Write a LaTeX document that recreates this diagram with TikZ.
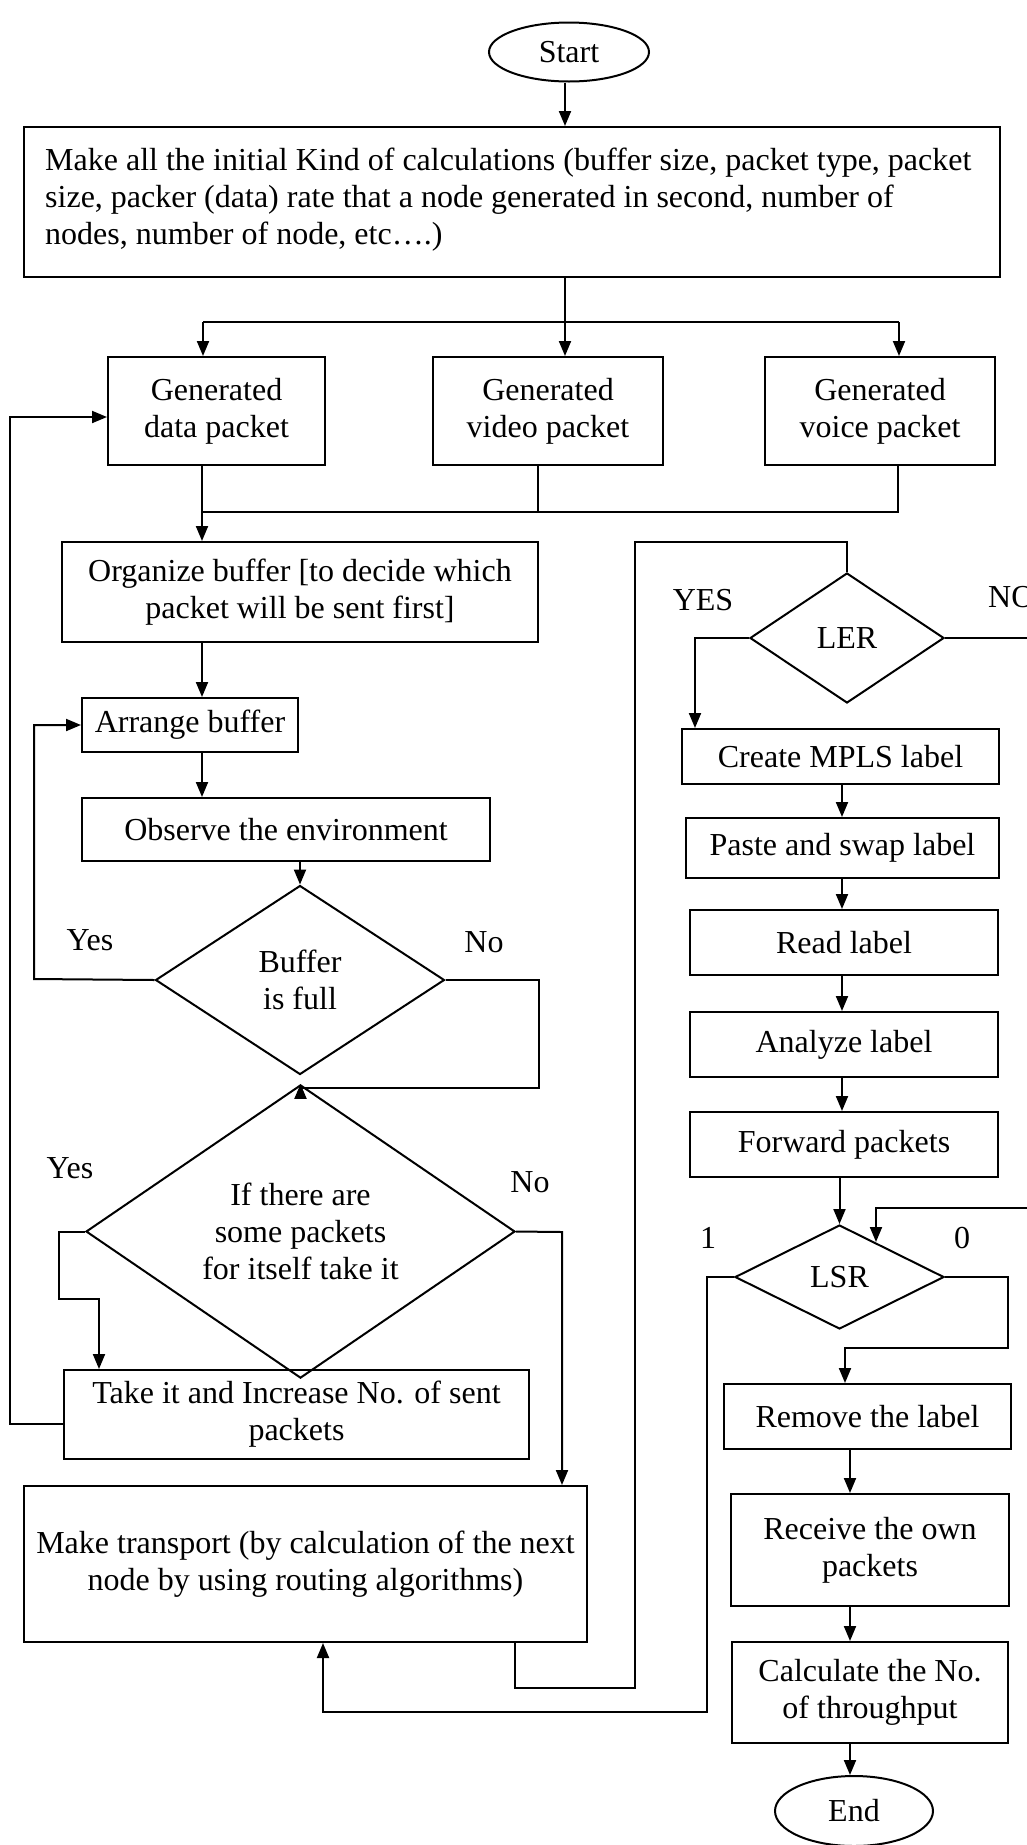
\documentclass[tikz,border=0pt]{standalone}
\usepackage{fontspec}
\setmainfont{Liberation Serif}
\usetikzlibrary{arrows.meta,shapes.geometric}
\begin{document}
\begin{tikzpicture}[x=1pt,y=-1pt,
  every node/.style={font=\fontsize{32}{37}\selectfont},
  box/.style={draw,line width=2pt,rectangle,inner sep=0pt,align=center},
  dia/.style={draw,line width=2pt,diamond,inner sep=0pt,align=center},
  term/.style={draw,line width=2pt,ellipse,inner sep=0pt},
  line/.style={line width=2pt},
  thin/.style={line width=1.3pt},
  arr/.style={line width=2pt,-{Triangle[length=15pt,width=12pt]}},
  lbl/.style={inner sep=0pt}
]
\useasboundingbox (0,0) rectangle (1027,1845);

% nodes
\node[term,minimum width=160pt,minimum height=59pt] (start) at (569,52) {Start};
\node[box,minimum width=976pt,minimum height=150pt] (init) at (512,202) {};
\node[lbl,anchor=north west,align=left] (inittext) at (45,148)
  {Make all the initial Kind of calculations (buffer size, packet type, packet\\
   size, packer (data) rate that a node generated in second, number of\\
   nodes, number of node, etc….)};
\node[box,minimum width=217pt,minimum height=108pt] (data) at (216.5,411) {Generated\\data packet};
\node[box,minimum width=230pt,minimum height=108pt] (video) at (548,411) {Generated\\video packet};
\node[box,minimum width=230pt,minimum height=108pt] (voice) at (880,411) {Generated\\voice packet};
\node[box,minimum width=476pt,minimum height=100pt] (org) at (300,592) {Organize buffer [to decide which\\packet will be sent first]};
\node[box,minimum width=216pt,minimum height=54pt] (arrange) at (190,725) {Arrange buffer};
\node[box,minimum width=408pt,minimum height=63pt] (observe) at (286,829.5) {Observe the environment};
\node[dia,minimum width=289pt,minimum height=189pt] (buf) at (300,980) {Buffer\\is full};
\node[dia,minimum width=429pt,minimum height=237pt] (q) at (300.5,1231.5) {If there are\\some packets\\for itself take it};
\node[box,minimum width=465pt,minimum height=89pt] (take) at (296.5,1414.5) {Take it and Increase No. of sent\\packets};
\node[box,minimum width=563pt,minimum height=156pt] (transport) at (305.5,1564) {Make transport (by calculation of the next\\node by using routing algorithms)};

\node[dia,minimum width=194pt,minimum height=130pt] (ler) at (847,638) {LER};
\node[box,minimum width=317pt,minimum height=55pt] (create) at (840.5,756.5) {Create MPLS label};
\node[box,minimum width=313pt,minimum height=60pt] (paste) at (842.5,848) {Paste and swap label};
\node[box,minimum width=308pt,minimum height=65pt] (read) at (844,942.5) {Read label};
\node[box,minimum width=308pt,minimum height=65pt] (analyze) at (844,1044.5) {Analyze label};
\node[box,minimum width=308pt,minimum height=65pt] (forward) at (844,1144.5) {Forward packets};
\node[dia,minimum width=209pt,minimum height=104pt] (lsr) at (839.5,1277) {LSR};
\node[box,minimum width=287pt,minimum height=65pt] (remove) at (867.5,1416.5) {Remove the label};
\node[box,minimum width=278pt,minimum height=112pt] (receive) at (870,1550) {Receive the own\\packets};
\node[box,minimum width=276pt,minimum height=101pt] (calc) at (870,1692.5) {Calculate the No.\\of throughput};
\node[term,minimum width=158pt,minimum height=70pt] (end) at (854,1811) {End};

% labels
\node[lbl] (yes1) at (90,940) {Yes};
\node[lbl] (no1) at (484,942) {No};
\node[lbl] (yes2) at (70,1168) {Yes};
\node[lbl] (no2) at (530,1182) {No};
\node[lbl] (yes3) at (703,600) {YES};
\node[lbl,anchor=west] (no3) at (988,597) {NO};
\node[lbl] (one) at (708,1238) {1};
\node[lbl] (zero) at (962,1238) {0};

% connectors
\coordinate (sp) at (565,322);
\draw[arr] (sp |- start.south) -- (sp |- init.north);
\draw[line] (sp |- init.south) -- (sp);
\coordinate (g1) at (203,322);
\coordinate (g3) at (899,322);
\draw[line] (g1) -- (g3);
\draw[arr] (g1) -- (g1 |- data.north);
\draw[arr] (sp) -- (sp |- video.north);
\draw[arr] (g3) -- (g3 |- voice.north);

\coordinate (m1) at (202,512);
\coordinate (m2) at (538,512);
\coordinate (m3) at (898,512);
\draw[line] (m1 |- data.south) -- (m1) -- (m3) -- (m3 |- voice.south);
\draw[thin] (m2 |- video.south) -- (m2);
\draw[arr] (m1) -- (m1 |- org.north);
\draw[arr] (org.south -| m1) -- (m1 |- arrange.north);
\draw[arr] (arrange.south -| m1) -- (m1 |- observe.north);
\draw[arr] (observe.south -| buf.north) -- (buf.north);

\coordinate (by) at (34,979);
\draw[arr] (buf.west) -- (by) |- (arrange.west);
\coordinate (bn) at (539,1088);
\draw[arr] (buf.east) -| (bn) -| (q.north);

\coordinate (qy1) at (59,1299);
\coordinate (qy2) at (99,1299);
\draw[arr] (q.west) -| (qy1) -- (qy2) -- (qy2 |- take.north);
\coordinate (lp) at (10,417);
\draw[arr] ([yshift=-9.5pt]take.west) -| (lp) -- (lp -| data.west);
\coordinate (qn) at (562,1232);
\draw[arr] (q.east) -- (qn) -- (qn |- transport.north);

\coordinate (l1) at (515,1688);
\coordinate (l2) at (635,1688);
\coordinate (l3) at (635,542);
\draw[thin] (l1 |- transport.south) -- (l1) -- (l2) -- (l3) -| (ler.north);

\coordinate (cy) at (695,638);
\draw[arr] (ler.west) -- (cy) -- (cy |- create.north);
\coordinate (ne) at (1030,638);
\draw[line] (ler.east) -- (ne);

\coordinate (rc) at (842,0);
\draw[arr] (create.south -| rc) -- (paste.north -| rc);
\draw[arr] (paste.south -| rc) -- (read.north -| rc);
\draw[arr] (read.south -| rc) -- (analyze.north -| rc);
\draw[arr] (analyze.south -| rc) -- (forward.north -| rc);
\draw[arr] (forward.south -| lsr.north) -- (lsr.north);

\coordinate (f0) at (1030,1208);
\coordinate (f1) at (876,1208);
\coordinate (f2) at (876,1242);
\draw[arr] (f0) -- (f1) -- (f2);

\coordinate (s1) at (707,1712);
\coordinate (s2) at (323,1712);
\draw[arr] (lsr.west) -| (s1) -- (s2) -- (s2 |- transport.south);

\coordinate (z1) at (1008,1348);
\coordinate (z2) at (845,1348);
\draw[arr] (lsr.east) -| (z1) -- (z2) -- (z2 |- remove.north);

\coordinate (rr) at (850,0);
\draw[arr] (remove.south -| rr) -- (receive.north -| rr);
\draw[arr] (receive.south -| rr) -- (calc.north -| rr);
\draw[arr] (calc.south -| rr) -- (end.north -| rr);
\end{tikzpicture}
\end{document}
